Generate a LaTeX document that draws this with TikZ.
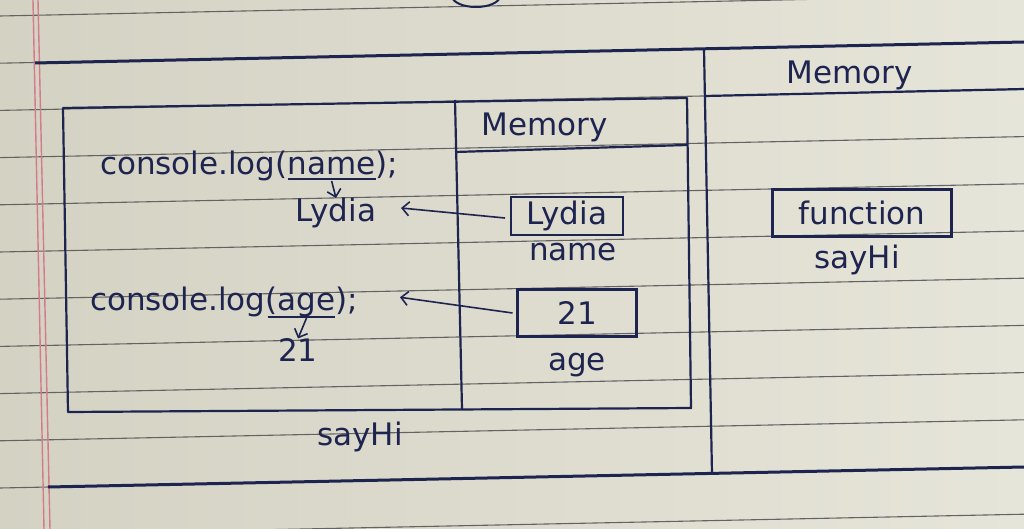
\documentclass[tikz,border=0pt]{standalone}
\usepackage{fontspec}
\setmainfont{DejaVu Sans}
\usetikzlibrary{arrows.meta,calc}
\definecolor{paperR}{HTML}{E6E5D9}
\definecolor{paperL}{HTML}{D4D2C3}
\definecolor{rulec}{HTML}{636363}
\definecolor{ink}{HTML}{1E2450}
\definecolor{marginc}{HTML}{D47A8A}
\begin{document}
\begin{tikzpicture}[x=1pt,y=-1pt,
  hw/.style={font=\fontsize{31}{36}\selectfont, text=ink, inner sep=0pt, outer sep=0pt},
  frame/.style={draw=ink, line width=2.2pt, line join=round},
  heavy/.style={draw=ink, line width=3pt},
  membox/.style={hw, draw=ink, line width=2.2pt},
  ul/.style={draw=ink, line width=1.8pt},
  arr/.style={draw=ink, line width=1.6pt, -{Straight Barb[length=7pt,width=14pt]}},
  ruled/.style={draw=rulec, line width=1.1pt},
  marg/.style={draw=marginc, line width=1.4pt}]
\useasboundingbox (0,0) rectangle (1024,529);
% paper
\shade[left color=paperL, right color=paperR] (0,0) rectangle (1024,529);
\foreach \k in {0,...,11} \draw[ruled] (0,{16+47.2*\k}) -- (1024,{16+47.2*\k-21});
\draw[marg] (33,0) -- (44,529);
\draw[marg] (38,0) -- (50,529);
\draw[ink, line width=2pt] (476,-4) ellipse (24 and 11);
% outer frame
\draw[heavy] (35,63) -- (1024,42);
\draw[frame] (704,49) -- (712,474);
\draw[frame] (705,96) -- (1024,89);
\draw[heavy] (48,487) -- (1024,467);
% inner box (sayHi execution context)
\draw[frame] (63,108) -- (687,98) -- (691,408) -- (68,412) -- cycle;
\draw[frame] (455,100) -- (462,409);
\draw[frame] (455,152) -- (687,145);
\node[hw] (mem1) at (545,127) {Memory};
% console.log(name);
\node[hw, anchor=base west] (c1a) at (100,175) {console.log(};
\node[hw, anchor=base west] (c1b) at (c1a.base east) {name};
\node[hw, anchor=base west] (c1c) at (c1b.base east) {);};
\draw[ul] ([yshift=-4pt]c1b.base west) -- ([yshift=-4pt]c1b.base east);
\node[hw] (lyd) at (336,213) {Lydia};
\draw[arr] ([yshift=-6pt]c1b.base) -- (lyd.north);
\node[membox, minimum width=112pt, minimum height=38pt] (lbox) at (567,216) {Lydia};
\node[hw] (nm) at (573,252) {name};
\draw[arr] ([xshift=-6pt,yshift=-2pt]lbox.west) -- ([xshift=25pt,yshift=5pt]lyd.east);
% console.log(age);
\node[hw, anchor=base west] (c2a) at (90,310) {console.log(};
\node[hw, anchor=base west] (c2b) at (c2a.base east) {age};
\node[hw, anchor=base west] (c2c) at (c2b.base east) {);};
\draw[ul] ([xshift=-10pt,yshift=-7pt]c2b.base west) -- ([yshift=-7pt]c2b.base east);
\node[hw] (v21) at (298,350) {21};
\draw[arr] ([yshift=-8pt]c2b.base) -- (v21.north);
\node[membox, minimum width=119pt, minimum height=47pt] (abox) at (577,313) {21};
\node[hw] (agel) at (577,365) {age};
\draw[arr] ([xshift=-5pt]abox.west) -- ([xshift=42pt,yshift=3pt]c2c.east);
\node[hw] (say1) at (360,437) {sayHi};
% global memory
\node[hw] (mem2) at (850,75) {Memory};
\node[membox, minimum width=179pt, minimum height=47pt] (fbox) at (862,213) {function};
\node[hw] (say2) at (857,260) {sayHi};
\end{tikzpicture}
\end{document}
